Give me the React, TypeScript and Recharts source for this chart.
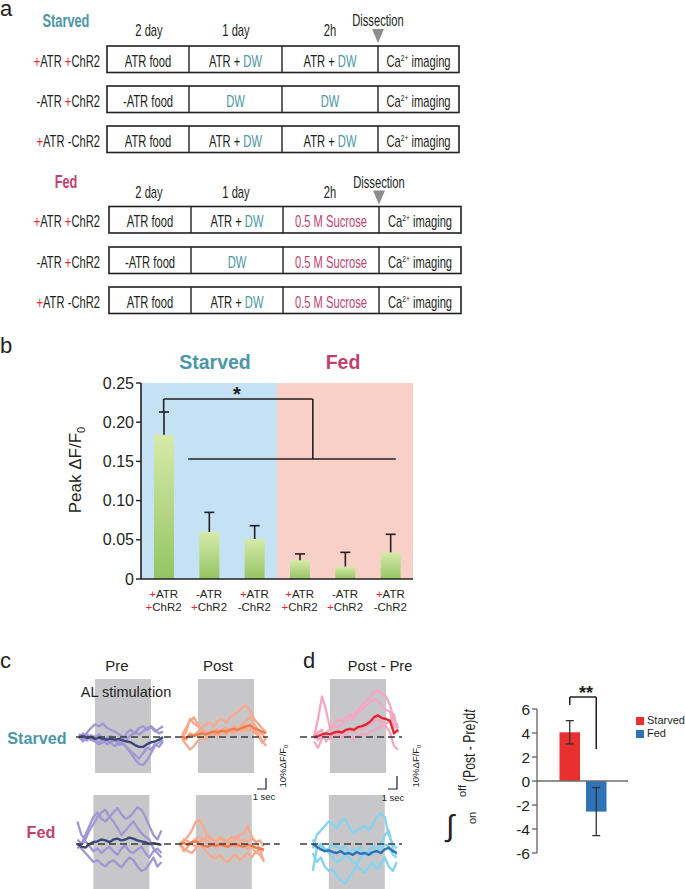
import React from 'react';
import {
  LineChart, Line, XAxis, YAxis, ReferenceArea, ReferenceLine,
  ComposedChart, Bar, Cell, Legend,
} from 'recharts';

const SANS = "'Liberation Sans', Arial, Helvetica, sans-serif";
const TEAL = '#4b97a6';
const CRIMSON = '#c23f6d';
const RED = '#e8262c';
const INK = '#231f20';
const SX = 0.7; // condensed look of the schematic font

// ---------- panel a ----------
const scheduleHeaders = ['2 day', '1 day', '2h'];
const genotypes = ['+ATR +ChR2', '-ATR +ChR2', '+ATR -ChR2'];
const starvedSchedule = [
  ['ATR food', 'ATR + DW', 'ATR + DW'],
  ['-ATR food', 'DW', 'DW'],
  ['ATR food', 'ATR + DW', 'ATR + DW'],
];
const fedSchedule = [
  ['ATR food', 'ATR + DW', '0.5 M Sucrose'],
  ['-ATR food', 'DW', '0.5 M Sucrose'],
  ['ATR food', 'ATR + DW', '0.5 M Sucrose'],
];

// ---------- panel b ----------
const bPos = [0.5, 1.5, 2.5, 3.5, 4.5, 5.5];
const bLabelTop = ['+ATR', '-ATR', '+ATR', '+ATR', '-ATR', '+ATR'];
const bLabelBottom = ['+ChR2', '+ChR2', '-ChR2', '+ChR2', '+ChR2', '-ChR2'];
const bPeak = [0.184, 0.060, 0.051, 0.024, 0.016, 0.034];
const bSem = [0.029, 0.025, 0.017, 0.008, 0.018, 0.023];
const bTicks = [0, 0.05, 0.1, 0.15, 0.2, 0.25];

// ---------- panel c / d traces (ΔF/F0, %; sampled every 0.5 s) ----------
const preStarvedMean = [0, 1, -1, 0, -2, -1, -2, -3, -2, -3, -2, -4, -5, -6, -9, -11, -11, -8, -6, -5, -3, 0];
const preStarved1 = [2, -3, 5, 10, 14, 12, 15, 10, 8, 6, 3, 0, -2, 2, 5, 3, 6, 10, 12, 8, 4, 6];
const preStarved2 = [-2, 4, 0, -3, -5, -8, -6, -4, -7, -10, -6, -8, -12, -18, -25, -30, -31, -26, -18, -10, -6, -3];
const preStarved3 = [0, -5, 3, -2, -4, -6, -3, -8, -5, -4, -9, -7, -12, -16, -20, -24, -18, -12, -14, -8, -11, -5];
const preStarved4 = [3, 0, -4, 2, 0, 3, -2, -1, 1, -3, -5, -2, 5, 8, 4, 10, 12, 8, 11, 6, 9, 12];

const postStarvedMean = [0, -1, 2, 1, 3, 4, 3, 5, 6, 5, 7, 6, 8, 9, 8, 10, 12, 13, 10, 8, 6, 4];
const postStarved1 = [0, 5, 20, 15, 12, 10, 14, 16, 12, 18, 20, 16, 22, 25, 28, 33, 35, 30, 20, 15, 10, 5];
const postStarved2 = [2, 10, 18, 22, 14, 8, 5, 3, 6, 4, 8, 10, 7, 12, 9, 14, 18, 22, 15, 8, 3, -2];
const postStarved3 = [-2, -8, -14, -10, -4, 0, -3, 2, 4, 1, 6, 3, 8, 5, 9, 6, 10, 14, 8, 4, -4, -10];
const postStarved4 = [0, -3, 4, 2, 6, 8, 5, 3, 7, 9, 5, 10, 6, 4, 8, 12, 7, 9, 5, 2, -6, -2];

const diffStarvedMean = [0, 1, 3, 4, 3, 5, 6, 5, 8, 9, 8, 11, 12, 14, 17, 22, 24, 21, 20, 18, 4, 8];
const diffStarved1 = [0, 20, 45, 30, 10, 15, 20, 18, 22, 25, 20, 28, 30, 35, 38, 42, 40, 35, 30, 28, 10, 15];
const diffStarved2 = [-5, -12, -2, 5, 8, 12, 10, 15, 18, 20, 25, 30, 35, 40, 45, 50, 52, 48, 45, 35, 20, 10];
const diffStarved3 = [2, 5, 8, -5, 0, 4, 2, 6, 3, 8, 5, 10, 8, 12, 15, 18, 20, 16, 12, 5, -10, -14];
const diffStarved4 = [0, -3, 0, 2, -2, 0, 3, -1, 2, 0, -3, 1, 4, 2, 6, 8, 10, 12, 15, 18, 25, 5];

const preFedMean = [0, -3, -4, 0, 2, 3, 5, 4, 2, 5, 6, 4, 5, 7, 6, 4, 3, 2, 0, 1, 0, -1];
const preFed1 = [5, 0, 10, 20, 30, 35, 28, 25, 30, 35, 40, 33, 28, 30, 35, 41, 38, 30, 20, 10, 5, 15];
const preFed2 = [25, 10, 5, 15, 22, 30, 35, 38, 30, 25, 18, 10, 15, 20, 25, 18, 12, 8, 5, -5, -10, -15];
const preFed3 = [0, -5, -10, -15, -20, -18, -22, -25, -20, -18, -22, -26, -20, -15, -18, -25, -30, -28, -22, -15, -25, -20];
const preFed4 = [-5, 0, 3, -2, -8, -5, -10, -6, -3, -8, -12, -5, -2, -8, -10, -6, -3, -10, -15, -8, -5, -10];

const postFedMean = [0, 1, -1, 2, 3, 0, -2, -3, -1, -2, 0, -2, -3, -1, 0, -2, -3, -1, -2, -4, -5, -6];
const postFed1 = [0, 3, 8, 15, 25, 27, 18, 8, 5, 3, 6, 2, 4, 8, 5, 10, 12, 20, 8, 2, -5, -8];
const postFed2 = [2, -5, -8, -10, -5, 0, -5, -10, -14, -16, -12, -18, -20, -15, -12, -18, -14, -10, -15, -8, -12, -18];
const postFed3 = [-2, 5, 3, 0, -3, 2, 6, 3, 0, -4, -2, 3, -3, 2, 8, 4, 0, -6, -3, -10, -5, -20];
const postFed4 = [0, -8, -3, 2, 6, 8, 4, 10, 6, 2, 8, 5, 3, 0, -4, 2, 5, 3, 6, 2, 4, -3];

const diffFedMean = [0, -3, -6, -8, -7, -9, -10, -8, -11, -10, -12, -9, -11, -10, -12, -9, -8, -10, -6, -4, -8, -10];
const diffFed1 = [-5, 10, 15, 20, 25, 22, 18, 25, 28, 20, 12, 15, 18, 20, 15, 22, 30, 34, 30, 10, 0, -5];
const diffFed2 = [-30, -5, 0, -5, -10, -15, -20, -18, -12, -15, -20, -22, -15, -10, -8, -12, -5, 0, 10, 15, -5, -12];
const diffFed3 = [-10, -20, -15, -25, -30, -28, -35, -40, -44, -38, -30, -25, -28, -32, -25, -20, -28, -22, -15, -25, -30, -20];
const diffFed4 = [5, -5, -2, -8, -5, 0, -3, -6, -2, -10, -5, -8, -3, -12, -6, -2, -8, -5, 0, -3, -12, -15];

const SAMPLE_DT = 0.5;
const STIM_ON = 2;
const STIM_OFF = 9;

// ---------- panel d bar ----------
const dGroups = ['Starved', 'Fed'];
const dIntegral = [4.06, -2.55];
const dSem = [0.97, 2.0];
const dColors = ['#e8312f', '#2f73b9'];
const dTicks = [-6, -4, -2, 0, 2, 4, 6];

// ================= helpers =================
const PlusRed = ({ text }: { text: string }) => {
  const parts = text.split(' ');
  return (
    <>
      {parts.map((p, i) => (
        <tspan key={i}>
          {i > 0 ? ' ' : ''}
          <tspan fill={p[0] === '+' ? RED : INK}>{p[0]}</tspan>
          {p.slice(1)}
        </tspan>
      ))}
    </>
  );
};

const CellText = ({ text }: { text: string }) => {
  if (text === 'DW') return <tspan fill={TEAL}>DW</tspan>;
  if (text.includes('Sucrose')) return <tspan fill={CRIMSON}>{text}</tspan>;
  if (text.endsWith('DW')) return (<><tspan>{text.slice(0, -2)}</tspan><tspan fill={TEAL}>DW</tspan></>);
  return <tspan>{text}</tspan>;
};

const NText = ({ x, y, anchor = 'middle', size = 15, weight, fill = INK, sx = SX, children }: any) => (
  <text transform={`translate(${x},${y}) scale(${sx},1)`} x={0} y={0} textAnchor={anchor} fontSize={size} fontWeight={weight} fill={fill}>
    {children}
  </text>
);

function ScheduleTable({ title, titleColor, topY, rowTops, colX, rows }: any) {
  const rowH = 26.5;
  return (
    <g fontFamily={SANS}>
      <NText x={66} y={topY + 26.7} size={17.5} weight="bold" fill={titleColor} sx={0.73}>{title}</NText>
      {scheduleHeaders.map((h, i) => (
        <NText key={h} x={[149, 236, 330][i]} y={topY + 36} size={16}>{h}</NText>
      ))}
      <NText x={colX[3]} y={topY + 26.3} size={16}>Dissection</NText>
      <polygon points={`${colX[3] - 6},${topY + 29} ${colX[3] + 6},${topY + 29} ${colX[3]},${topY + 43}`} fill="#8c8c8c" />
      {rows.map((r: string[], ri: number) => {
        const y0 = rowTops[ri];
        const cy = y0 + 20.7;
        return (
          <g key={ri}>
            <NText x={100} y={cy} anchor="end" size={16}><PlusRed text={genotypes[ri]} /></NText>
            <rect x={colX[0]} y={y0} width={colX[4] - colX[0]} height={rowH} fill="#fff" stroke={INK} strokeWidth={1.6} />
            {[1, 2, 3].map((k) => (
              <line key={k} x1={colX[k]} x2={colX[k]} y1={y0} y2={y0 + rowH} stroke={INK} strokeWidth={1.4} />
            ))}
            {r.map((c, ci) => (
              <NText key={ci} x={(colX[ci] + colX[ci + 1]) / 2} y={cy} size={16}><CellText text={c} /></NText>
            ))}
            <NText x={(colX[3] + colX[4]) / 2} y={cy} size={16}>
              Ca<tspan fontSize={9.5} dy={-6}>2+</tspan><tspan dy={6}> imaging</tspan>
            </NText>
          </g>
        );
      })}
    </g>
  );
}

// ================= trace charts =================
type TraceGroup = { offset: number; light: number[][]; mean: number[]; lightColor: string; meanColor: string };

const toSeries = (arr: number[], offset: number) => arr.map((v, i) => ({ t: offset + i * SAMPLE_DT, v }));

function TraceRow({ left, top, width, height, domain, groups, dashFrom, dashTo }: any) {
  const tMax = width / 8;
  return (
    <div style={{ position: 'absolute', left, top }}>
      <LineChart width={width} height={height} margin={{ top: 0, right: 0, bottom: 0, left: 0 }}>
        <XAxis type="number" dataKey="t" domain={[0, tMax]} hide allowDataOverflow />
        <YAxis type="number" domain={domain} hide allowDataOverflow />
        {groups.map((g: TraceGroup, gi: number) => (
          <ReferenceArea key={'ra' + gi} x1={g.offset + STIM_ON} x2={g.offset + STIM_OFF} fill="#c7c7c9" fillOpacity={1} stroke="none" ifOverflow="visible" />
        ))}
        {groups.flatMap((g: TraceGroup, gi: number) =>
          g.light.map((arr, li) => (
            <Line key={`l${gi}-${li}`} data={toSeries(arr, g.offset)} dataKey="v" stroke={g.lightColor} strokeWidth={2.3} dot={false} isAnimationActive={false} strokeLinejoin="round" />
          ))
        )}
        {groups.map((g: TraceGroup, gi: number) => (
          <Line key={`m${gi}`} data={toSeries(g.mean, g.offset)} dataKey="v" stroke={g.meanColor} strokeWidth={2.4} dot={false} isAnimationActive={false} strokeLinejoin="round" />
        ))}
        <ReferenceLine segment={[{ x: dashFrom, y: 0 }, { x: dashTo, y: 0 }]} stroke="#3b3b3b" strokeWidth={1.7} strokeDasharray="7 4" ifOverflow="visible" />
      </LineChart>
    </div>
  );
}

const PRE_LIGHT = '#a096d6';
const PRE_DARK = '#38497a';
const POST_LIGHT = '#f8a98c';
const POST_DARK = '#f27b4b';
const DS_LIGHT = '#f4a7c3';
const DS_DARK = '#e5262e';
const DF_LIGHT = '#83d3f2';
const DF_DARK = '#2d72b8';

// ================= panel b bar shape =================
const BarWithUpperErr = (props: any) => {
  const { x, y, width, height, payload } = props;
  if (!payload || !payload.peak) return null;
  const top = Math.min(y, y + height);
  const h = Math.abs(height);
  const pxPer = h / payload.peak;
  const eTop = top - payload.sem * pxPer;
  const cx = x + width / 2;
  return (
    <g>
      <rect x={x} y={top} width={width} height={h} fill="url(#greenGrad)" />
      <line x1={cx} x2={cx} y1={top} y2={eTop} stroke={INK} strokeWidth={1.6} />
      <line x1={cx - 5} x2={cx + 5} y1={eTop} y2={eTop} stroke={INK} strokeWidth={1.6} />
    </g>
  );
};

const BTick = (props: any) => {
  const { x, y, payload } = props;
  const i = bPos.indexOf(payload.value);
  if (i < 0) return null;
  return (
    <text x={x} y={y} textAnchor="middle" fontSize={11.5} fill={INK} fontFamily={SANS}>
      <tspan x={x} dy={11}><PlusRed text={bLabelTop[i]} /></tspan>
      <tspan x={x} dy={13}><PlusRed text={bLabelBottom[i]} /></tspan>
    </text>
  );
};

const BYLabel = (props: any) => {
  const { viewBox } = props;
  const x = viewBox.x;
  const y = 110;
  return (
    <text x={x} y={y} transform={`rotate(-90, ${x}, ${y})`} textAnchor="middle" fontSize={17} fill={INK} fontFamily={SANS}>
      Peak ΔF/F<tspan fontSize={11} dy={4}>0</tspan>
    </text>
  );
};

// ================= panel d bar shape =================
const BarWithSymErr = (props: any) => {
  const { x, y, width, height, payload, fill } = props;
  if (!payload || !payload.value) return null;
  const top = Math.min(y, y + height);
  const bottom = Math.max(y, y + height);
  const h = bottom - top;
  const pxPer = h / Math.abs(payload.value);
  const end = payload.value >= 0 ? top : bottom;
  const cx = x + width / 2;
  const e = payload.sem * pxPer;
  return (
    <g>
      <rect x={x} y={top} width={width} height={h} fill={fill} />
      <line x1={cx} x2={cx} y1={end - e} y2={end + e} stroke="#333" strokeWidth={1.3} />
      <line x1={cx - 4} x2={cx + 4} y1={end - e} y2={end - e} stroke="#333" strokeWidth={1.3} />
      <line x1={cx - 4} x2={cx + 4} y1={end + e} y2={end + e} stroke="#333" strokeWidth={1.3} />
    </g>
  );
};

const DLegend = () => (
  <div style={{ fontFamily: SANS, fontSize: 11, color: INK, lineHeight: '13px' }}>
    {dGroups.map((g, i) => (
      <div key={g} style={{ display: 'flex', alignItems: 'center', whiteSpace: 'nowrap' }}>
        <span style={{ display: 'inline-block', width: 8, height: 8, background: dColors[i], marginRight: 3 }} />
        {g}
      </div>
    ))}
  </div>
);

export default function App() {
  const bData = bPos.map((p, i) => ({ x: p, peak: bPeak[i], sem: bSem[i] }));
  const dData = dGroups.map((g, i) => ({ group: g, value: dIntegral[i], sem: dSem[i] }));

  const starvedGroupsC: TraceGroup[] = [
    { offset: 0.5, light: [preStarved1, preStarved2, preStarved3, preStarved4], mean: preStarvedMean, lightColor: PRE_LIGHT, meanColor: PRE_DARK },
    { offset: 13.375, light: [postStarved1, postStarved2, postStarved3, postStarved4], mean: postStarvedMean, lightColor: POST_LIGHT, meanColor: POST_DARK },
  ];
  const fedGroupsC: TraceGroup[] = [
    { offset: 0.3, light: [preFed1, preFed2, preFed3, preFed4], mean: preFedMean, lightColor: PRE_LIGHT, meanColor: PRE_DARK },
    { offset: 13.1, light: [postFed1, postFed2, postFed3, postFed4], mean: postFedMean, lightColor: POST_LIGHT, meanColor: POST_DARK },
  ];
  const starvedGroupsD: TraceGroup[] = [
    { offset: 1.75, light: [diffStarved1, diffStarved2, diffStarved3, diffStarved4], mean: diffStarvedMean, lightColor: DS_LIGHT, meanColor: DS_DARK },
  ];
  const fedGroupsD: TraceGroup[] = [
    { offset: 1.6, light: [diffFed1, diffFed2, diffFed3, diffFed4], mean: diffFedMean, lightColor: DF_LIGHT, meanColor: DF_DARK },
  ];

  return (
    <div style={{ position: 'absolute', left: 0, top: 0, width: 685, height: 889, background: '#fff', overflow: 'hidden', fontFamily: SANS }}>
      {/* panel a */}
      <svg width={685} height={330} style={{ position: 'absolute', left: 0, top: 0 }}>
        <text x={0} y={16} fontSize={22} fill={INK} fontFamily={SANS}>a</text>
        <ScheduleTable title="Starved" titleColor={TEAL} topY={0} rowTops={[46, 86, 126]} colX={[107, 189, 282, 378, 459]} rows={starvedSchedule} />
        <ScheduleTable title="Fed" titleColor={CRIMSON} topY={161.5} rowTops={[206.5, 247, 287]} colX={[109, 191, 283, 379, 461]} rows={fedSchedule} />
      </svg>

      {/* panel b */}
      <div style={{ position: 'absolute', left: 60, top: 360 }}>
        <ComposedChart width={370} height={270} data={bData} margin={{ top: 23, right: 17, left: 21, bottom: 6 }}>
          <defs>
            <linearGradient id="greenGrad" x1="0" y1="0" x2="0" y2="1">
              <stop offset="0%" stopColor="#d6eaa9" />
              <stop offset="100%" stopColor="#94c463" />
            </linearGradient>
          </defs>
          <XAxis dataKey="x" type="number" domain={[0, 6]} ticks={bPos} allowDataOverflow
            axisLine={{ stroke: INK, strokeWidth: 1.6 }} tickLine={false} tick={<BTick />} height={45} interval={0} />
          <YAxis type="number" domain={[0, 0.25]} ticks={bTicks} width={60} tickSize={5}
            tickFormatter={(v: number) => (v === 0 ? '0' : v.toFixed(2))}
            axisLine={{ stroke: INK, strokeWidth: 1.6 }} tickLine={{ stroke: INK, strokeWidth: 1.4 }}
            tick={{ fontSize: 16, fill: INK, fontFamily: SANS }}
            label={<BYLabel />} />
          <ReferenceArea x1={0} x2={3} fill="#c4e2f3" fillOpacity={1} stroke="none" />
          <ReferenceArea x1={3} x2={6} fill="#f9d0c7" fillOpacity={1} stroke="none" />
          <Bar dataKey="peak" barSize={20} isAnimationActive={false} shape={<BarWithUpperErr />} />
          <ReferenceLine segment={[{ x: 0.5, y: 0.213 }, { x: 0.5, y: 0.2296 }]} stroke={INK} strokeWidth={1.6} ifOverflow="visible" />
          <ReferenceLine segment={[{ x: 0.5, y: 0.2296 }, { x: 3.79, y: 0.2296 }]} stroke={INK} strokeWidth={1.6} ifOverflow="visible" />
          <ReferenceLine segment={[{ x: 3.79, y: 0.2296 }, { x: 3.79, y: 0.153 }]} stroke={INK} strokeWidth={1.6} ifOverflow="visible" />
          <ReferenceLine segment={[{ x: 1.04, y: 0.153 }, { x: 5.62, y: 0.153 }]} stroke={INK} strokeWidth={1.6} ifOverflow="visible" />
        </ComposedChart>
      </div>

      {/* trace rows */}
      <TraceRow left={75} top={679} width={210} height={94} domain={[-40, 64.44]} groups={starvedGroupsC} dashFrom={0.125} dashTo={24.1} />
      <TraceRow left={75} top={795} width={210} height={94} domain={[-50, 54.44]} groups={fedGroupsC} dashFrom={0.125} dashTo={25.6} />
      <TraceRow left={300} top={679} width={125} height={94} domain={[-40, 64.44]} groups={starvedGroupsD} dashFrom={0} dashTo={12.75} />
      <TraceRow left={300} top={795} width={125} height={94} domain={[-50, 54.44]} groups={fedGroupsD} dashFrom={0} dashTo={12.75} />

      {/* panel d bar */}
      <div style={{ position: 'absolute', left: 440, top: 690 }}>
        <ComposedChart width={245} height={180} data={dData} margin={{ top: 19, right: 57, left: 47, bottom: 17 }}>
          <XAxis dataKey="group" type="category" hide padding={{ left: 19.5, right: 18.5 }} />
          <YAxis type="number" domain={[-6, 6]} ticks={dTicks} width={50} tickSize={5}
            axisLine={{ stroke: '#555', strokeWidth: 1.2 }} tickLine={{ stroke: '#555', strokeWidth: 1.2 }}
            tick={{ fontSize: 15.5, fill: INK, fontFamily: SANS }} />
          <ReferenceLine y={0} stroke="#6d6d6d" strokeWidth={1.6} />
          <Bar dataKey="value" barSize={20.5} isAnimationActive={false} shape={<BarWithSymErr />}>
            {dData.map((d, i) => <Cell key={d.group} fill={dColors[i]} />)}
          </Bar>
          <ReferenceLine segment={[{ x: 'Starved', y: 6.33 }, { x: 'Starved', y: 7 }]} stroke={INK} strokeWidth={1.5} ifOverflow="visible" />
          <ReferenceLine segment={[{ x: 'Starved', y: 7 }, { x: 'Fed', y: 7 }]} stroke={INK} strokeWidth={1.5} ifOverflow="visible" />
          <ReferenceLine segment={[{ x: 'Fed', y: 7 }, { x: 'Fed', y: 2.67 }]} stroke={INK} strokeWidth={1.5} ifOverflow="visible" />
          <Legend layout="vertical" align="center" verticalAlign="middle" content={<DLegend />} wrapperStyle={{ left: 196, top: 24, width: 90 }} />
        </ComposedChart>
      </div>

      {/* overlay annotations */}
      <svg width={685} height={889} style={{ position: 'absolute', left: 0, top: 0, pointerEvents: 'none' }} fontFamily={SANS}>
        {/* b */}
        <text x={0} y={353} fontSize={22} fill={INK}>b</text>
        <text x={215} y={369} textAnchor="middle" fontSize={19.5} fontWeight="bold" fill={TEAL}>Starved</text>
        <text x={343} y={369} textAnchor="middle" fontSize={19.5} fontWeight="bold" fill={CRIMSON}>Fed</text>
        <text x={237} y={401} textAnchor="middle" fontSize={20} fontWeight="bold" fill={INK}>*</text>
        {/* c */}
        <text x={0} y={668} fontSize={22} fill={INK}>c</text>
        <text x={117} y={671} textAnchor="middle" fontSize={15} fill={INK}>Pre</text>
        <text x={218} y={671} textAnchor="middle" fontSize={15} fill={INK}>Post</text>
        <text x={126} y={697} textAnchor="middle" fontSize={14.5} fill={INK}>AL stimulation</text>
        <text x={37} y={743.5} textAnchor="middle" fontSize={16.2} fontWeight="bold" fill={TEAL}>Starved</text>
        <text x={41} y={838} textAnchor="middle" fontSize={16.2} fontWeight="bold" fill={CRIMSON}>Fed</text>
        {/* scale bars */}
        <path d="M257,789 L266,789 L266,778" stroke={INK} strokeWidth={1.2} fill="none" />
        <text x={264} y={800} textAnchor="middle" fontSize={9.5} fill={INK}>1 sec</text>
        <text x={286} y={766} transform="rotate(-90, 286, 766)" textAnchor="middle" fontSize={9.5} fill={INK}>10%ΔF/F<tspan fontSize={6} dy={2}>0</tspan></text>
        <path d="M388,789 L397,789 L397,776" stroke={INK} strokeWidth={1.2} fill="none" />
        <text x={393} y={801} textAnchor="middle" fontSize={9.5} fill={INK}>1 sec</text>
        <text x={419} y={766} transform="rotate(-90, 419, 766)" textAnchor="middle" fontSize={9.5} fill={INK}>10%ΔF/F<tspan fontSize={6} dy={2}>0</tspan></text>
        {/* d */}
        <text x={303} y={668} fontSize={22} fill={INK}>d</text>
        <text x={380} y={671} textAnchor="middle" fontSize={14.5} fill={INK}>Post - Pre</text>
        <text x={586} y={699} textAnchor="middle" fontSize={18} fontWeight="bold" fill={INK}>**</text>
        {/* y-axis label of the integral bar chart */}
        <text x={446} y={836} fontSize={30} fill={INK}>∫</text>
        <text x={466} y={797} transform="rotate(-90, 466, 797)" fontSize={11} fill={INK}>off</text>
        <text x={476} y={824} transform="rotate(-90, 476, 824)" fontSize={11} fill={INK}>on</text>
        <text transform="translate(475,782) rotate(-90) scale(0.74,1)" x={0} y={0} fontSize={16.5} fill={INK}>(Post - Pre)d<tspan fontStyle="italic">t</tspan></text>
      </svg>
    </div>
  );
}
